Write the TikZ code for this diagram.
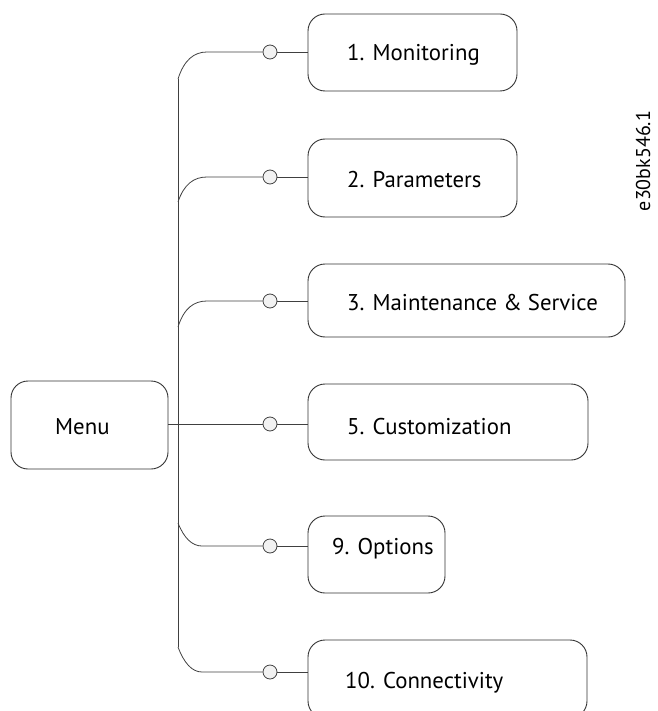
\documentclass[tikz,border=0pt]{standalone}
\usepackage{fontspec}
\setmainfont{PT Sans}
\begin{document}
\begin{tikzpicture}[x=1pt,y=-1pt,
  wire/.style={draw=black!75, line width=0.8pt},
  mbox/.style n args={2}{draw=black!80, line width=0.9pt, rounded corners=17pt,
     inner sep=0pt, minimum width=#1pt, minimum height=#2pt},
  knob/.style={circle, draw=black!75, line width=0.8pt, fill=black!5,
     inner sep=0pt, minimum size=14pt},
  lbl/.style={anchor=base west, inner sep=0pt, font=\fontsize{22.8}{27}\selectfont}]
\useasboundingbox (0,0) rectangle (657,711);
\clip (0,0) rectangle (657,711);
% boxes
\node[mbox={157}{88}] (menu) at (89.5,425) {};
\node[mbox={209}{77}] (b1) at (412.5,52.5) {};
\node[mbox={209}{78}] (b2) at (412.5,178) {};
\node[mbox={317}{73}] (b3) at (466.5,300.5) {};
\node[mbox={280}{76}] (b5) at (448,422) {};
\node[mbox={137}{77}] (b9) at (376.5,554.5) {};
\node[mbox={279}{78}] (b10) at (447.5,679) {};
% labels
\node[lbl] (l0) at (55,434) {Menu};
\node[lbl] (l1) at (347,61) {1. Monitoring};
\node[lbl] (l2) at (347,188) {2. Parameters};
\node[lbl] (l3) at (347,310) {3. Maintenance \& Service};
\node[lbl] (l5) at (347,434) {5. Customization};
\node[lbl] (l9) at (332,554) {9. Options};
\node[lbl] (l10) at (345,688) {10. Connectivity};
% knobs
\node[knob] (k1) at (270,52) {};
\node[knob] (k2) at (270,177) {};
\node[knob] (k3) at (270,301) {};
\node[knob] (k5) at (270,424) {};
\node[knob] (k9) at (270,546) {};
\node[knob] (k10) at (270,672) {};
% trunk
\coordinate (t1) at (178,79);
\coordinate (t2) at (178,202);
\coordinate (t3) at (178,327);
\coordinate (t9) at (178,523);
\coordinate (t10) at (178,647);
\draw[wire] (t1) -- (t10);
\draw[wire] (t1) .. controls (184,60) and (194,52) .. (207,52) -- (k1);
\draw[wire] (t2) .. controls (184,184) and (194,177) .. (207,177) -- (k2);
\draw[wire] (t3) .. controls (184,308) and (194,301) .. (207,301) -- (k3);
\draw[wire] (t9) .. controls (184,538) and (192,546) .. (202,546) -- (k9);
\draw[wire] (t10) .. controls (184,663) and (192,672) .. (202,672) -- (k10);
\draw[wire] (menu.east |- k5) -- (k5);
% knob to box
\draw[wire] (k1) -- (k1 -| b1.west);
\draw[wire] (k2) -- (k2 -| b2.west);
\draw[wire] (k3) -- (k3 -| b3.west);
\draw[wire] (k5) -- (k5 -| b5.west);
\draw[wire] (k9) -- (k9 -| b9.west);
\draw[wire] (k10) -- (k10 -| b10.west);
% code
\node[rotate=90, anchor=base, inner sep=0pt, text depth=0pt, font=\fontsize{20}{24}\selectfont] (code) at (650,161) {e30bk546.1};
\end{tikzpicture}
\end{document}
